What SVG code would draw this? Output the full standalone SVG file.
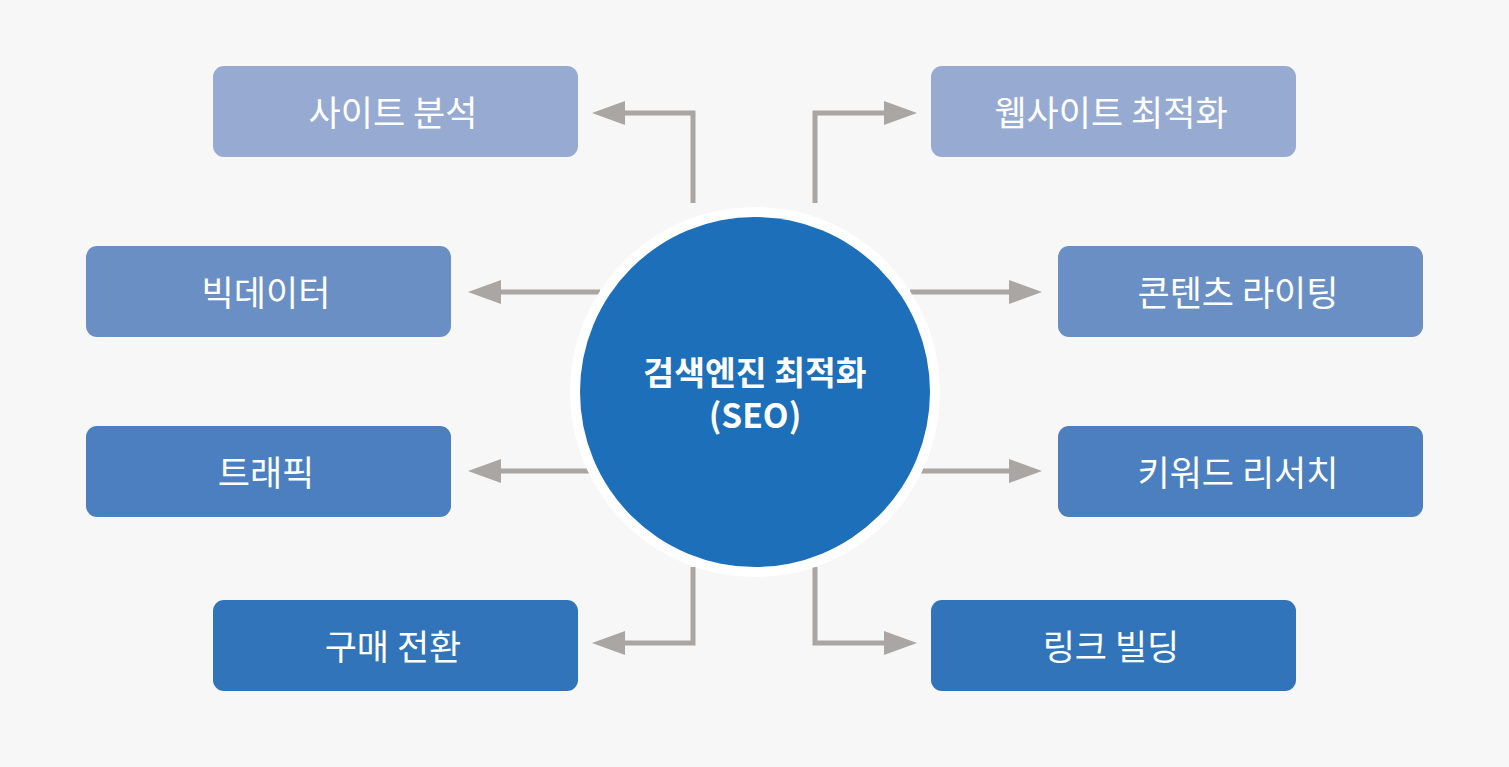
<svg xmlns="http://www.w3.org/2000/svg" width="1509" height="767" viewBox="0 0 1509 767">
<style>
.lbl{font-family:"Noto Sans CJK KR","Noto Sans",sans-serif;font-size:35px;fill:#fff;text-anchor:middle;dominant-baseline:central}
.ctr{font-family:"Noto Sans CJK KR","Noto Sans",sans-serif;font-size:33.5px;font-weight:bold;fill:#fff;text-anchor:middle}
.c{fill:none;stroke:#aaa6a3;stroke-width:5;marker-end:url(#ah)}
.r1{fill:#97abd2}.r2{fill:#6a8fc4}.r3{fill:#4c7fc0}.r4{fill:#3174b9}
</style>
<defs>
<marker id="ah" markerUnits="userSpaceOnUse" viewBox="0 0 33 24" markerWidth="33" markerHeight="24" refX="3" refY="12" orient="auto">
<path d="M0,0 L33,12 L0,24 z" fill="#aaa6a3"/>
</marker>
</defs>
<rect width="1509" height="767" fill="#f7f7f7"/>
<g id="connectors">
<path class="c" d="M693,203 V113 H622"/>
<path class="c" d="M600,292 H498"/>
<path class="c" d="M590,471 H498"/>
<path class="c" d="M693,567 V643 H622"/>
<path class="c" d="M815,203 V113 H887"/>
<path class="c" d="M910,292 H1012"/>
<path class="c" d="M920,471 H1012"/>
<path class="c" d="M815,567 V643 H887"/>
</g>
<g id="center">
<circle cx="755" cy="392" r="185" fill="#fff"/>
<circle cx="755" cy="392" r="175" fill="#1c6fb8"/>
<text class="ctr"><tspan x="755" y="385">검색엔진 최적화</tspan><tspan x="755" y="428">(SEO)</tspan></text>
</g>
<g id="n1"><rect class="r1" x="213" y="66" width="365" height="91" rx="11"/><text class="lbl" x="393" y="110">사이트 분석</text></g>
<g id="n2"><rect class="r2" x="86" y="246" width="365" height="91" rx="11"/><text class="lbl" x="266" y="290">빅데이터</text></g>
<g id="n3"><rect class="r3" x="86" y="426" width="365" height="91" rx="11"/><text class="lbl" x="266" y="470">트래픽</text></g>
<g id="n4"><rect class="r4" x="213" y="600" width="365" height="91" rx="11"/><text class="lbl" x="393" y="644">구매 전환</text></g>
<g id="n5"><rect class="r1" x="931" y="66" width="365" height="91" rx="11"/><text class="lbl" x="1111" y="110">웹사이트 최적화</text></g>
<g id="n6"><rect class="r2" x="1058" y="246" width="365" height="91" rx="11"/><text class="lbl" x="1238" y="290">콘텐츠 라이팅</text></g>
<g id="n7"><rect class="r3" x="1058" y="426" width="365" height="91" rx="11"/><text class="lbl" x="1238" y="470">키워드 리서치</text></g>
<g id="n8"><rect class="r4" x="931" y="600" width="365" height="91" rx="11"/><text class="lbl" x="1111" y="644">링크 빌딩</text></g>
</svg>
